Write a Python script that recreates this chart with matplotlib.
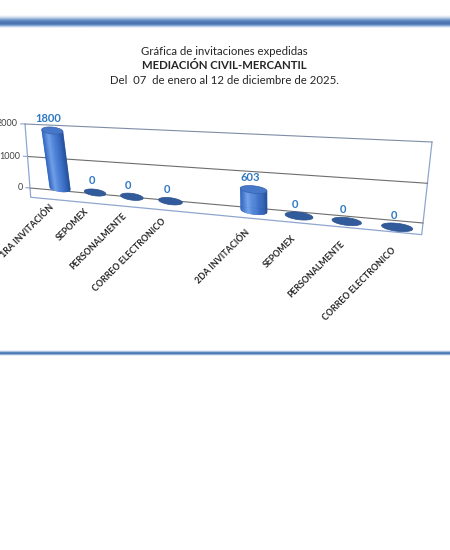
import numpy as np
import matplotlib
matplotlib.use("Agg")
import matplotlib.pyplot as plt
import matplotlib.transforms as mtransforms
from matplotlib.patches import Polygon
from matplotlib.colors import LinearSegmentedColormap, to_rgb

plt.rcParams['font.family'] = ['Lato', 'DejaVu Sans']

# datos
categorias = ['1RA INVITACIÓN', 'SEPOMEX', 'PERSONALMENTE', 'CORREO ELECTRONICO', '',
              '2DA INVITACIÓN', 'SEPOMEX', 'PERSONALMENTE', 'CORREO ELECTRONICO']
valores = [1800, 0, 0, 0, None, 603, 0, 0, 0]
marcas_y = [0, 1000, 2000]
titulo = ['Gráfica de invitaciones expedidas',
          'MEDIACIÓN CIVIL-MERCANTIL',
          'Del  07  de enero al 12 de diciembre de 2025.']


class Persp(mtransforms.Transform):
    """transformacion proyectiva (homografia) para simular la vista 3D"""
    input_dims = 2
    output_dims = 2
    is_separable = False

    def __init__(self, H):
        super().__init__()
        self.H = np.asarray(H, float)

    def transform_non_affine(self, values):
        v = np.atleast_2d(np.asarray(values, float))
        p = np.column_stack([v, np.ones(len(v))]) @ self.H.T
        return p[:, :2] / p[:, 2:]


def homografia(src, dst):
    A, b = [], []
    for (x, y), (X, Y) in zip(src, dst):
        A.append([x, y, 1, 0, 0, 0, -X * x, -X * y]); b.append(X)
        A.append([0, 0, 0, x, y, 1, -Y * x, -Y * y]); b.append(Y)
    h = np.linalg.solve(np.array(A, float), np.array(b, float))
    return np.append(h, 1).reshape(3, 3)


fig = plt.figure(figsize=(4.5, 5.5), dpi=100)
ax = fig.add_axes([0, 0, 1, 1])
ax.set_xlim(0, 450)
ax.set_ylim(550, 0)
ax.axis('off')

# franjas azules
banda = ['#F4F7FB', '#E2EAF4', '#C4D5EA', '#9DB8DA', '#7399CB', '#5A85BF', '#4F78B2',
         '#4A72AC', '#5580B8', '#7EA2D0', '#BCD0EA', '#E8EFF8']
ax.imshow(np.array([[to_rgb(c)] for c in banda]), extent=(0, 450, 28, 15), aspect='auto')
linea = ['#EAF0F8', '#A9C1E0', '#5A84BC', '#4E78B1', '#8FAED6', '#E6EDF7']
ax.imshow(np.array([[to_rgb(c)] for c in linea]), extent=(0, 450, 356, 350), aspect='auto')

# titulo
fig.text(0.498, 1 - 51.5 / 550, titulo[0], ha='center', va='center', fontsize=8.2, color='#262626')
fig.text(0.498, 1 - 65.5 / 550, titulo[1], ha='center', va='center', fontsize=8.2,
         color='#262626', fontweight='bold')
fig.text(0.498, 1 - 80 / 550, titulo[2], ha='center', va='center', fontsize=8.2, color='#262626')

# pared del fondo
H_pared = homografia([(-0.5, 0), (-0.5, 2000), (8.5, 0), (8.5, 2000)],
                     [(30, 188), (25, 124), (423, 223), (432, 142)])
tr_pared = Persp(H_pared) + ax.transData
u0, u1 = -0.5, len(categorias) - 0.5
frente = -300
ax.plot([u0, u0, u1, u1], [marcas_y[-1], frente, frente, marcas_y[-1]],
        color='#8FA6CF', lw=0.9, transform=tr_pared)
for m in marcas_y:
    ax.plot([u0, u1], [m, m], color='#6E6E6E' if m < marcas_y[-1] else '#7F8CA6',
            lw=0.8, transform=tr_pared)
    ax.plot([u0, u0 - 0.12], [m, m], color='#8FA6CF', lw=0.8, transform=tr_pared)
    ax.text(u0 - 0.2, m, str(m), ha='right', va='center', fontsize=6.5,
            color='#404040', transform=tr_pared)

# cilindros
H_cil = [[32.79, -0.00532, 60.0],
         [-0.5, -0.0347, 188.5],
         [-0.02352, -1.92e-5, 1.0]]
tr_cil = Persp(H_cil) + ax.transData
cmap = LinearSegmentedColormap.from_list(
    'cil', [(0, '#2F63C0'), (0.28, '#6F9FE8'), (0.5, '#4F84D8'), (0.8, '#3568C0'), (1, '#24509C')])
r, D = 0.3, 105
th = np.linspace(0, 2 * np.pi, 60)

for i, (cat, val) in enumerate(zip(categorias, valores)):
    if val is None:
        continue
    if val > 0:
        t = np.linspace(-1, 1, 31)
        for k in range(len(t) - 1):
            s0, s1 = np.sqrt(1 - t[k] ** 2), np.sqrt(1 - t[k + 1] ** 2)
            verts = [(i + r * t[k], -D * s0), (i + r * t[k + 1], -D * s1),
                     (i + r * t[k + 1], val), (i + r * t[k], val)]
            col = cmap(k / (len(t) - 2))
            ax.add_patch(Polygon(verts, closed=True, facecolor=col, edgecolor=col, lw=0.4,
                                 transform=tr_cil, zorder=3))
        ax.add_patch(Polygon(np.column_stack([i + r * np.cos(th), val + D * np.sin(th)]),
                             closed=True, facecolor='#4677C9', edgecolor='#3762AA', lw=0.5,
                             transform=tr_cil, zorder=4))
    else:
        ax.add_patch(Polygon(np.column_stack([i + r * np.cos(th), D * np.sin(th)]),
                             closed=True, facecolor='#315B9B', edgecolor='#2A508E', lw=0.5,
                             transform=tr_cil, zorder=3))
    ax.annotate(str(val), xy=(i, val), xycoords=tr_cil, xytext=(-2.5, 4.5),
                textcoords='offset points', ha='center', va='bottom', fontsize=8,
                fontweight='bold', color='#2E78C2', zorder=5)

# etiquetas de categorias
for i, cat in enumerate(categorias):
    if not cat:
        continue
    ax.text(i - 0.3 + 0.035 * i, -600, cat, rotation=45, rotation_mode='anchor',
            ha='right', va='center', fontsize=6.3, fontweight='bold', color='#262626',
            transform=tr_cil)

fig.savefig('out.png', dpi=100)
